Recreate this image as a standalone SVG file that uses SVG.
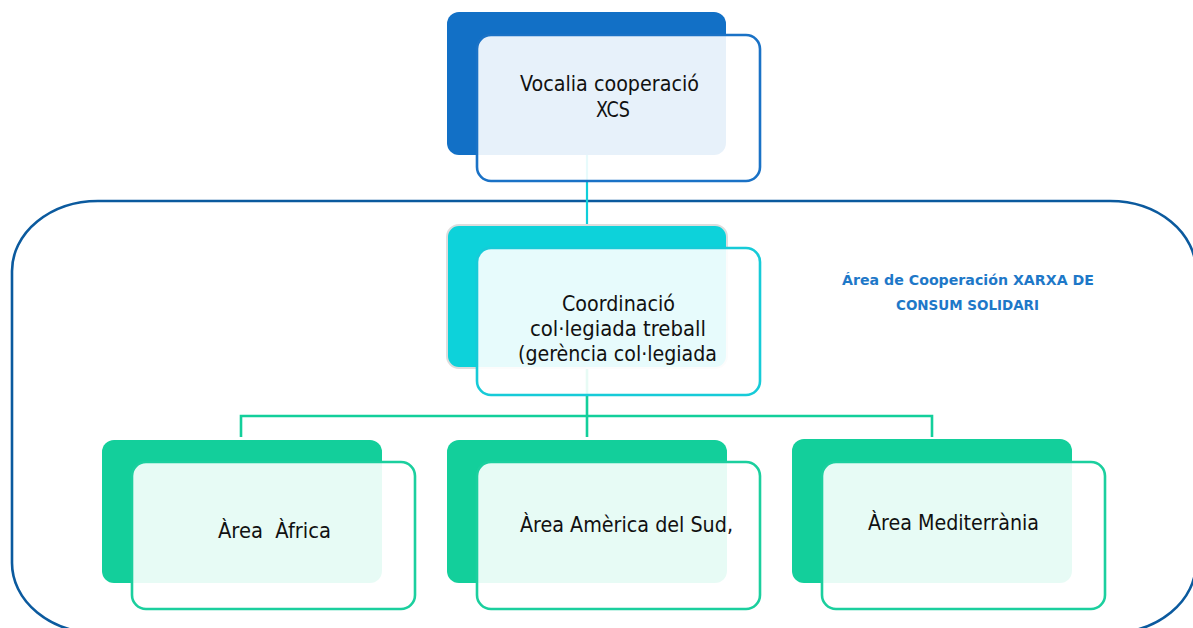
<svg xmlns="http://www.w3.org/2000/svg" width="1193" height="628" viewBox="0 0 1193 628">
<style>
  .txt { font-family: "DejaVu Sans Condensed", "DejaVu Sans", sans-serif; font-stretch: condensed; font-size: 21px; fill: #111; text-anchor: middle; }
  .lbl { font-family: "DejaVu Sans", sans-serif; font-weight: bold; font-size: 14px; fill: #1E78C8; text-anchor: middle; }
  .front { fill: #ffffff; fill-opacity: 0.9; stroke-width: 2.6; }
  .blue-b { fill: #1270C6; }
  .blue-f { stroke: #1A72C6; }
  .cyan-b { fill: #0DD2DA; stroke: #DDDDDD; stroke-width: 2; }
  .cyan-f { stroke: #16CBD8; }
  .green-b { fill: #13CF9B; }
  .green-f { stroke: #1BCF9E; }
  .container { fill: none; stroke: #0B5A9E; stroke-width: 2.6; }
  .c-cyan { stroke: #0FCFDA; stroke-width: 2.2; fill: none; }
  .c-green { stroke: #13CF9B; stroke-width: 2.6; fill: none; }
</style>
<rect x="0" y="0" width="1193" height="628" fill="#ffffff"/>
<g id="container">
  <path class="container" d="M 98 201 H 1110 A 86 70 0 0 1 1196 271 V 563 A 86 70 0 0 1 1110 633 H 98 A 86 70 0 0 1 12 563 V 271 A 86 70 0 0 1 98 201 Z"/>
  <text class="lbl" x="968" y="284.5" textLength="252" lengthAdjust="spacingAndGlyphs">Área de Cooperación XARXA DE</text>
  <text class="lbl" x="967.5" y="309.5" textLength="143" lengthAdjust="spacingAndGlyphs">CONSUM SOLIDARI</text>
</g>
<g id="connectors">
  <line class="c-cyan" x1="587" y1="150" x2="587" y2="226"/>
  <path class="c-green" d="M 587 360 V 437 M 241 437 V 416 H 932 V 437"/>
</g>
<g id="node-vocalia">
  <rect class="blue-b" x="447" y="12" width="279" height="143" rx="12"/>
  <rect class="front blue-f" x="477" y="35" width="283" height="146" rx="14"/>
  <text class="txt" x="609.5" y="91" textLength="179" lengthAdjust="spacingAndGlyphs">Vocalia cooperació</text>
  <text class="txt" x="613" y="117" textLength="34" lengthAdjust="spacingAndGlyphs">XCS</text>
</g>
<g id="node-coordinacio">
  <rect class="cyan-b" x="447" y="225" width="280" height="143" rx="12"/>
  <rect class="front cyan-f" x="477" y="248" width="283" height="147" rx="14"/>
  <text class="txt" x="618.5" y="311" textLength="113" lengthAdjust="spacingAndGlyphs">Coordinació</text>
  <text class="txt" x="618" y="336" textLength="176" lengthAdjust="spacingAndGlyphs">col·legiada treball</text>
  <text class="txt" x="617.5" y="361" textLength="199" lengthAdjust="spacingAndGlyphs">(gerència col·legiada</text>
</g>
<g id="node-africa">
  <rect class="green-b" x="102" y="440" width="280" height="143" rx="12"/>
  <rect class="front green-f" x="132" y="462" width="283" height="147" rx="14"/>
  <text class="txt" x="274.5" y="538" textLength="113" lengthAdjust="spacingAndGlyphs" xml:space="preserve">Àrea  Àfrica</text>
</g>
<g id="node-america">
  <rect class="green-b" x="447" y="440" width="280" height="143" rx="12"/>
  <rect class="front green-f" x="477" y="462" width="283" height="147" rx="14"/>
  <text class="txt" x="626.5" y="532" textLength="213" lengthAdjust="spacingAndGlyphs">Àrea Amèrica del Sud,</text>
</g>
<g id="node-mediterrania">
  <rect class="green-b" x="792" y="439" width="280" height="144" rx="12"/>
  <rect class="front green-f" x="822" y="462" width="283" height="147" rx="14"/>
  <text class="txt" x="953.5" y="530" textLength="171" lengthAdjust="spacingAndGlyphs">Àrea Mediterrània</text>
</g>
</svg>
